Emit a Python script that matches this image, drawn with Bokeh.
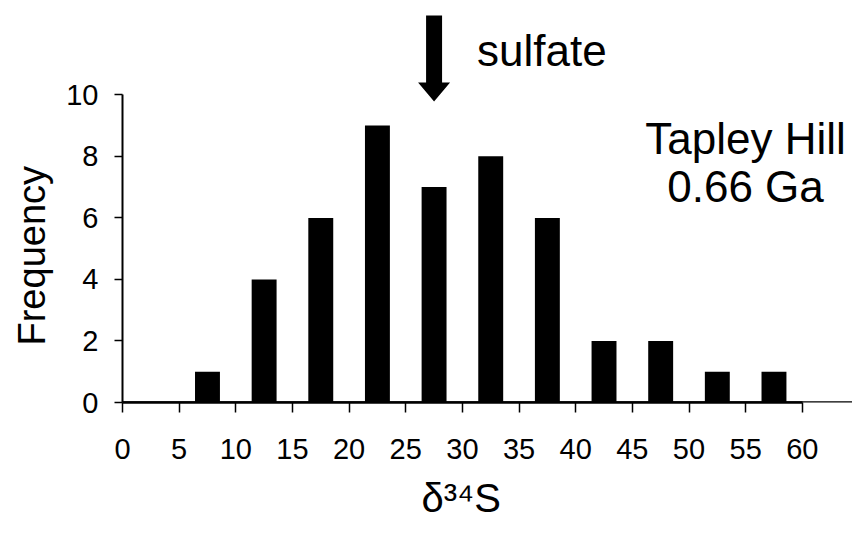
from bokeh.plotting import figure
from bokeh.models import FixedTicker, Label, Range1d, Span, Title
from bokeh.embed import file_html
from bokeh.resources import INLINE

# ---- data ----
bin_edges = [0, 5, 10, 15, 20, 25, 30, 35, 40, 45, 50, 55, 60, 65]
counts = [0, 1, 4, 6, 9, 7, 8, 6, 2, 2, 1, 1, 0]
x_ticks = [0, 5, 10, 15, 20, 25, 30, 35, 40, 45, 50, 55, 60]
y_ticks = [0, 2, 4, 6, 8, 10]
sulfate_x = 27.5
site_lines = ["Tapley Hill", "0.66 Ga"]
x_title = "δ³⁴S"
y_title = "Frequency"

centers = [(bin_edges[i] + bin_edges[i + 1]) / 2 for i in range(len(counts))]

FONT = "Liberation Sans"
W, H = 852, 533
FL, FB = 122, 131           # frame left / bottom border in px
px_x = 11.33                # px per x unit
px_y = 30.77                # px per y unit
x_end = (W - FL) / px_x
y_end = (H - FB) / px_y

p = figure(width=W, height=H, output_backend="svg", toolbar_location=None,
           x_range=Range1d(0, x_end), y_range=Range1d(0, y_end),
           min_border_left=FL, min_border_right=0, min_border_top=0,
           min_border_bottom=FB)
p.outline_line_color = None
p.xgrid.visible = False
p.ygrid.visible = False
p.background_fill_color = "white"
p.border_fill_color = "white"

p.vbar(x=centers, top=counts, width=2.2, fill_color="black", line_color=None)

# baseline across the whole frame
p.add_layout(Span(location=0, dimension="width", line_color="black", line_width=2.5))

# axes
xa = p.xaxis[0]
xa.ticker = FixedTicker(ticks=x_ticks)
xa.bounds = (0, 60)
xa.axis_line_width = 2.5
xa.axis_line_color = "black"
xa.major_tick_in = 0
xa.major_tick_out = 10
xa.major_tick_line_width = 1.5
xa.minor_tick_line_color = None
xa.major_label_standoff = 26
xa.major_label_text_font = FONT
xa.major_label_text_font_size = "29px"
xa.major_label_text_color = "black"

ya = p.yaxis[0]
ya.ticker = FixedTicker(ticks=y_ticks)
ya.bounds = (0, 10)
ya.axis_line_width = 2
ya.axis_line_color = "black"
ya.major_tick_in = 0
ya.major_tick_out = 8
ya.major_tick_line_width = 1.5
ya.minor_tick_line_color = None
ya.major_label_standoff = 16
ya.major_label_text_font = FONT
ya.major_label_text_font_size = "29px"
ya.major_label_text_color = "black"

# axis titles as side titles (placed by offset along the frame)
p.add_layout(Title(text=y_title, align="left", offset=57, standoff=18,
                   vertical_align="top",
                   text_font=FONT, text_font_size="38px", text_font_style="normal",
                   text_color="black"), "left")
p.add_layout(Title(text=x_title, align="left", offset=299, standoff=24,
                   vertical_align="bottom",
                   text_font=FONT, text_font_size="40px", text_font_style="normal",
                   text_color="black"), "below")

# sulfate arrow
shaft_half = 8 / px_x
head_half = 16 / px_x
y_top = (H - FB - 15) / px_y
y_head = (H - FB - 82) / px_y
y_tip = (H - FB - 101) / px_y
p.patch(x=[sulfate_x - shaft_half, sulfate_x + shaft_half, sulfate_x + shaft_half,
           sulfate_x + head_half, sulfate_x, sulfate_x - head_half,
           sulfate_x - shaft_half],
        y=[y_top, y_top, y_head, y_head, y_tip, y_head, y_head],
        fill_color="black", line_color=None)
p.add_layout(Label(x=sulfate_x + 43 / px_x, y=(H - FB - 50) / px_y, text="sulfate",
                   text_align="left", text_baseline="alphabetic",
                   text_font=FONT, text_font_size="44px", text_color="black"))

# site annotation
for i, t in enumerate(site_lines):
    p.add_layout(Label(x=(745 - FL) / px_x, y=(H - FB - 138 - 48 * i) / px_y,
                       text=t, text_align="center", text_baseline="alphabetic",
                       text_font=FONT, text_font_size="44px", text_color="black"))

open("out.html", "w").write(file_html(p, INLINE))
